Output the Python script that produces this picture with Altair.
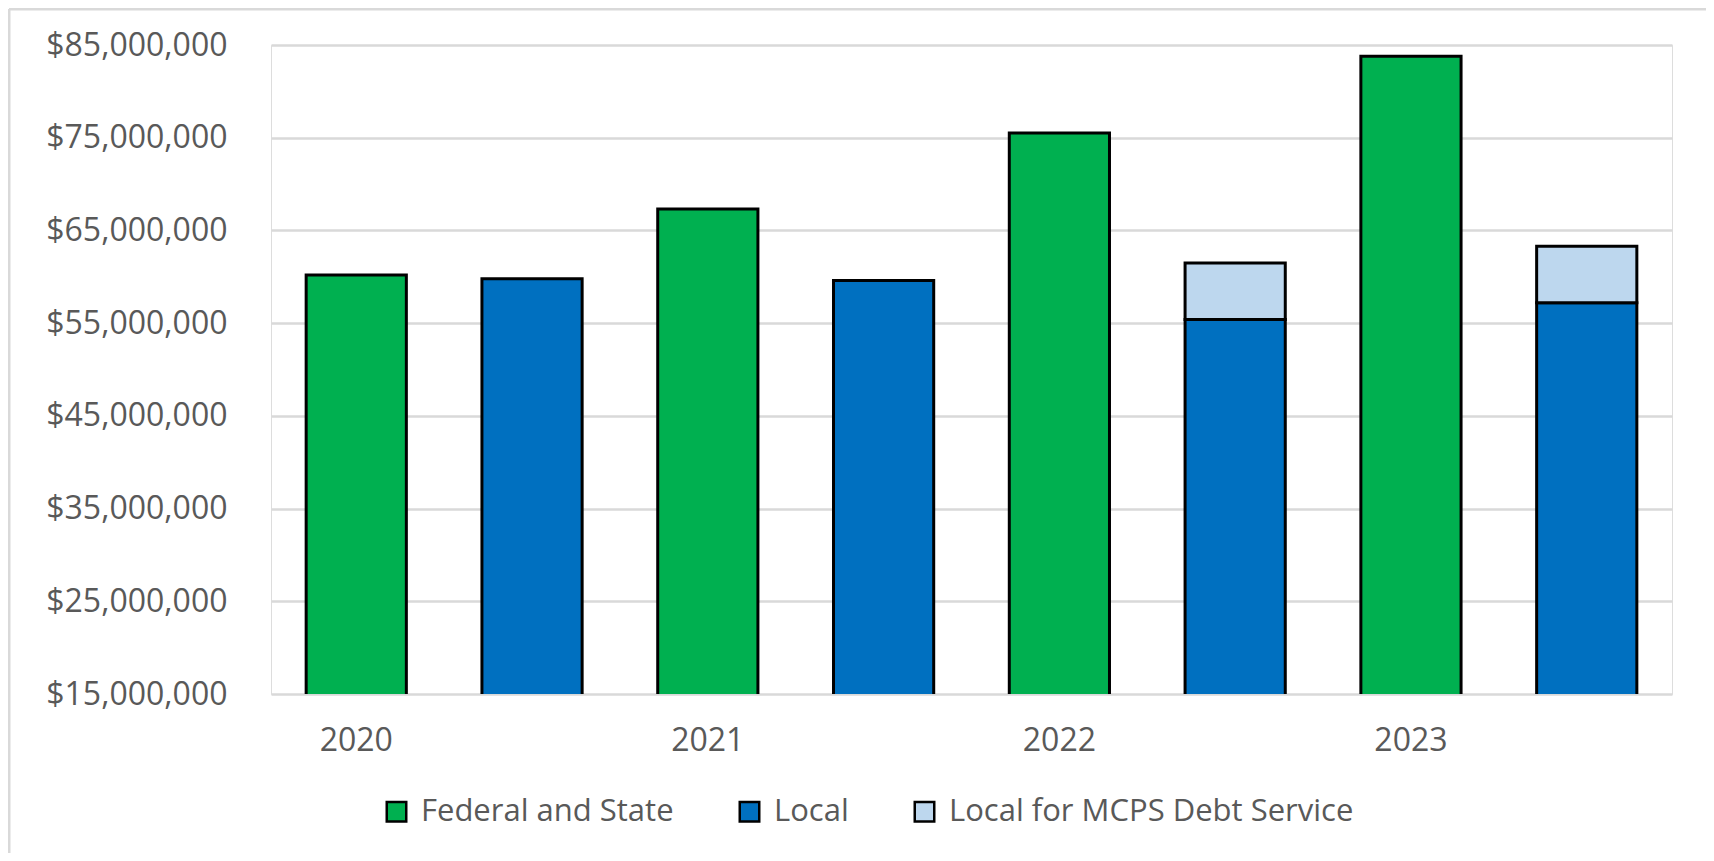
import altair as alt
import pandas as pd

years = ["2020", "2021", "2022", "2023"]
series_names = ["Federal and State", "Local", "Local for MCPS Debt Service"]
federal_state = [60_200_000, 67_300_000, 75_500_000, 83_800_000]
local = [59_800_000, 59_600_000, 55_400_000, 57_200_000]
local_debt = [0, 0, 6_100_000, 6_100_000]
y_ticks = [15_000_000, 25_000_000, 35_000_000, 45_000_000, 55_000_000, 65_000_000, 75_000_000, 85_000_000]
colors = ["#00B050", "#0070C0", "#BDD7EE"]

rows = []
cats = []
for i, yr in enumerate(years):
    cf = f"{yr}|F"
    cl = f"{yr}|L"
    cats += [cf, cl]
    rows.append({"cat": cf, "series": series_names[0], "value": federal_state[i], "ord": 0})
    rows.append({"cat": cl, "series": series_names[1], "value": local[i], "ord": 1})
    if local_debt[i] > 0:
        rows.append({"cat": cl, "series": series_names[2], "value": local_debt[i], "ord": 2})
df = pd.DataFrame(rows)

FONT = "Open Sans"
GRAY = "#595959"
FS = 32

bars = alt.Chart(df).mark_bar(stroke="black", strokeWidth=3, clip=True).encode(
    x=alt.X("cat:N", sort=cats, title=None,
            scale=alt.Scale(paddingInner=0.43, paddingOuter=0.2),
            axis=alt.Axis(labelExpr="slice(datum.label, -1) == 'F' ? slice(datum.label, 0, 4) : ''",
                          labelAngle=0, domain=False, ticks=False, grid=False,
                          labelPadding=31, labelFont=FONT, labelFontSize=FS, labelColor=GRAY)),
    y=alt.Y("value:Q", stack="zero", title=None,
            scale=alt.Scale(domain=[15_000_000, 85_000_000], nice=False, zero=False),
            axis=alt.Axis(values=y_ticks, format="$,.0f", domain=False, ticks=False,
                          grid=True, gridColor="#d9d9d9", gridWidth=2.5, labelLimit=0,
                          labelPadding=44, labelFont=FONT, labelFontSize=FS, labelColor=GRAY)),
    color=alt.Color("series:N", sort=series_names,
                    scale=alt.Scale(domain=series_names, range=colors),
                    legend=alt.Legend(title=None, orient="none", legendX=110, legendY=751,
                                      direction="horizontal", columns=3, columnPadding=60,
                                      symbolType="square", symbolSize=380,
                                      symbolStrokeColor="black", symbolStrokeWidth=2.5,
                                      labelFont=FONT, labelFontSize=31, labelColor=GRAY,
                                      labelOffset=9, labelLimit=0, padding=0)),
    order=alt.Order("ord:Q", sort="ascending"),
)

one = pd.DataFrame({"a": [0]})
frame_top = alt.Chart(one).mark_rule(color="#d9d9d9", strokeWidth=3, clip=False).encode(
    x=alt.value(-262), x2=alt.value(1500), y=alt.value(-36)
)
frame_left = alt.Chart(one).mark_rule(color="#d9d9d9", strokeWidth=3, clip=False).encode(
    x=alt.value(-262), y=alt.value(-36), y2=alt.value(900)
)

chart = alt.layer(frame_top, frame_left, bars).properties(
    width=1401, height=649,
    autosize=alt.AutoSizeParams(type="none"),
    padding={"left": 263, "top": 37, "right": 34, "bottom": 159},
).configure_view(stroke=None).configure(background="white")

chart.save("out.html", embed_options={"renderer": "svg", "actions": False})
